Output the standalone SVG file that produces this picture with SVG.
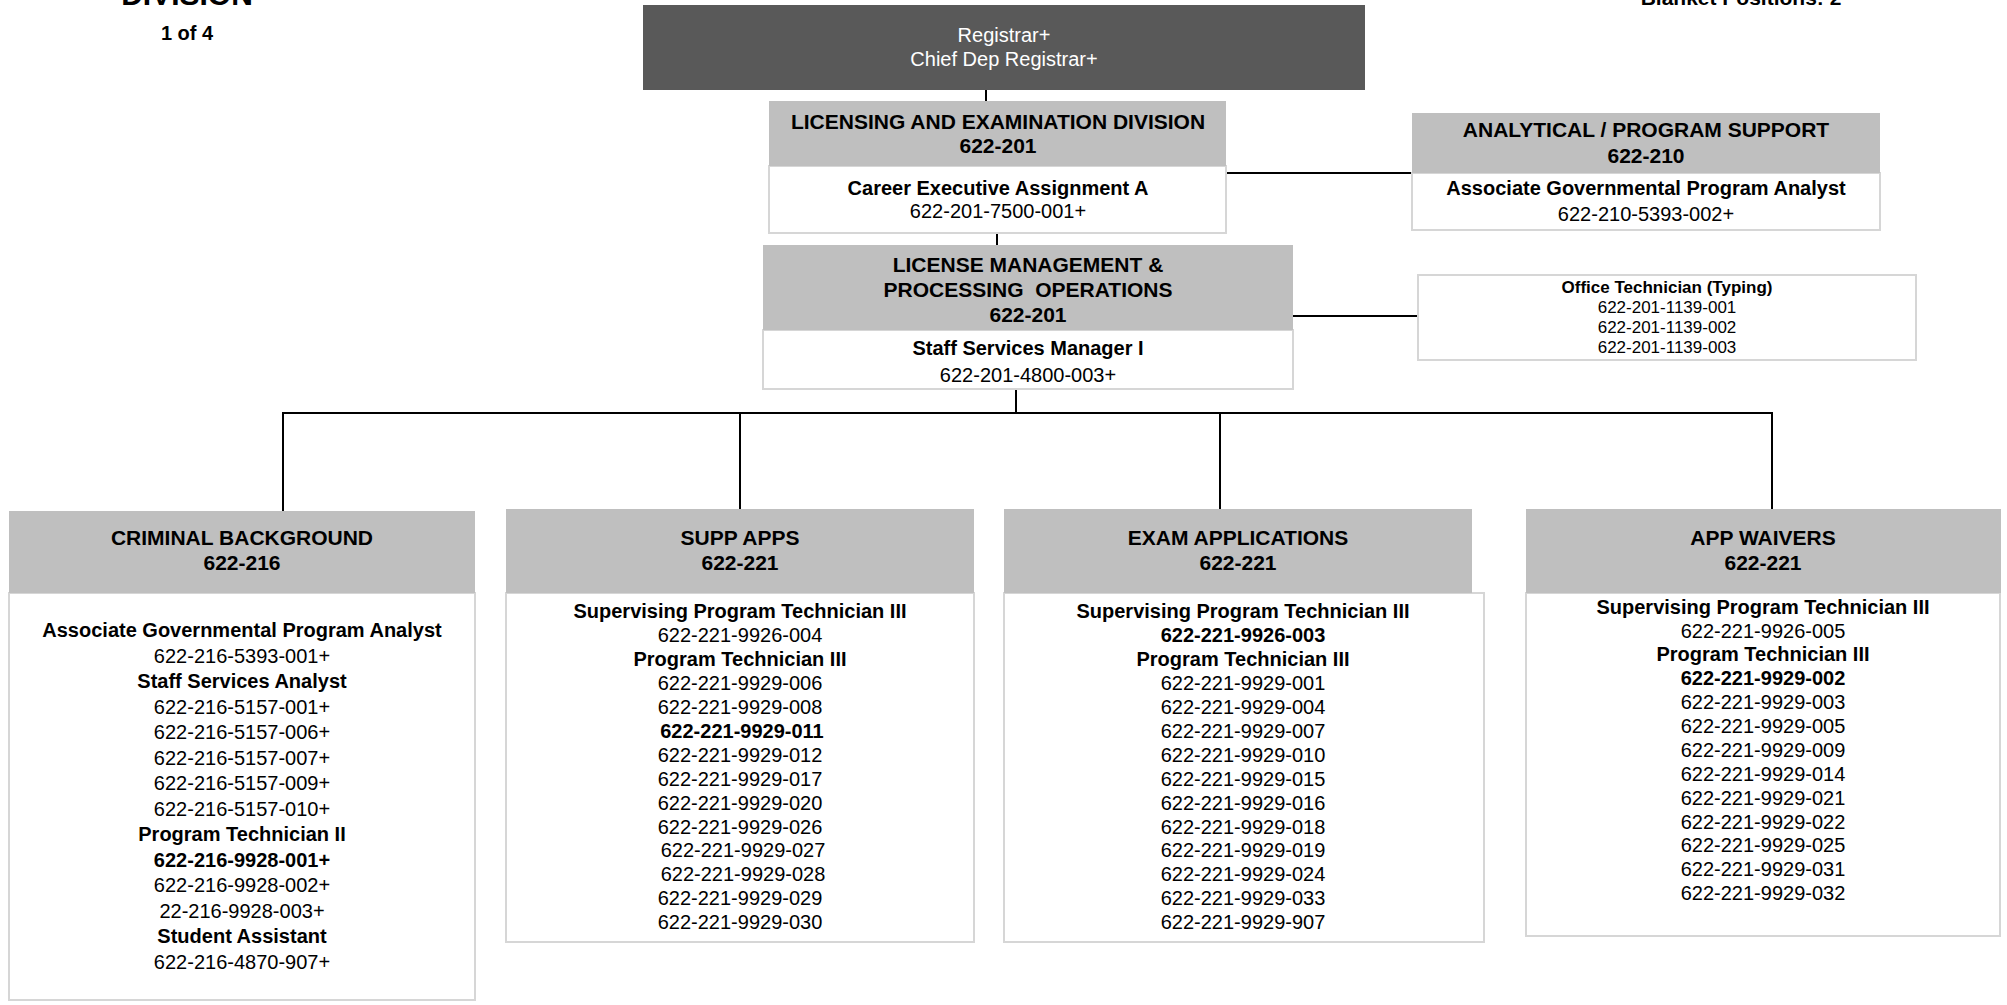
<svg xmlns="http://www.w3.org/2000/svg" width="2007" height="1005" viewBox="0 0 2007 1005">
<style>
text{font-family:"Liberation Sans",Arial,sans-serif;text-anchor:middle;fill:#000}
.h{font-size:21px;font-weight:bold}
.b{font-size:20px;font-weight:bold}
.n{font-size:20px}
.sb{font-size:17px;font-weight:bold}
.sn{font-size:17px}
.w{fill:#fff;font-size:20px}
.hdr{fill:#BFBFBF}
.bx{fill:#fff;stroke:#D6D6D6;stroke-width:2}
.dark{fill:#595959}
.ttl{font-size:30px;font-weight:bold}
.pg{font-size:20px;font-weight:bold}
#connectors line{stroke:#000;stroke-width:2}
</style>
<rect width="2007" height="1005" fill="#fff"/>
<g id="title">
<text class="ttl" x="187" y="5">DIVISION</text>
<text class="pg" x="187" y="40">1 of 4</text>
<text class="h" x="1741" y="5">Blanket Positions: 2</text>
</g>
<g id="connectors">
<line x1="986" y1="90" x2="986" y2="101"/>
<line x1="997" y1="233" x2="997" y2="245"/>
<line x1="1226" y1="173" x2="1412" y2="173"/>
<line x1="1293" y1="316" x2="1418" y2="316"/>
<line x1="1016" y1="389" x2="1016" y2="413"/>
<line x1="282" y1="413" x2="1773" y2="413"/>
<line x1="283" y1="413" x2="283" y2="511"/>
<line x1="740" y1="413" x2="740" y2="509"/>
<line x1="1220" y1="413" x2="1220" y2="509"/>
<line x1="1772" y1="413" x2="1772" y2="509"/>
</g>
<g id="registrar">
<rect class="dark" x="643" y="5" width="722" height="85"/>
<text class="w" x="1004" y="42">Registrar+</text>
<text class="w" x="1004" y="66">Chief Dep Registrar+</text>
</g>
<g id="licensing-exam-division">
<rect class="bx" x="769" y="166" width="457" height="67"/>
<rect class="hdr" x="769" y="101" width="457" height="65"/>
<text class="h" x="998" y="129">LICENSING AND EXAMINATION DIVISION</text>
<text class="h" x="998" y="153">622-201</text>
<text class="b" x="998" y="195">Career Executive Assignment A</text>
<text class="n" x="998" y="218">622-201-7500-001+</text>
</g>
<g id="analytical-support">
<rect class="bx" x="1412" y="173" width="468" height="57"/>
<rect class="hdr" x="1412" y="113" width="468" height="60"/>
<text class="h" x="1646" y="137">ANALYTICAL / PROGRAM SUPPORT</text>
<text class="h" x="1646" y="163">622-210</text>
<text class="b" x="1646" y="195">Associate Governmental Program Analyst</text>
<text class="n" x="1646" y="221">622-210-5393-002+</text>
</g>
<g id="license-management">
<rect class="bx" x="763" y="330" width="530" height="59"/>
<rect class="hdr" x="763" y="245" width="530" height="85"/>
<text class="h" x="1028" y="272">LICENSE MANAGEMENT &amp;</text>
<text class="h" x="1028" y="297" xml:space="preserve">PROCESSING  OPERATIONS</text>
<text class="h" x="1028" y="322">622-201</text>
<text class="b" x="1028" y="355">Staff Services Manager I</text>
<text class="n" x="1028" y="382">622-201-4800-003+</text>
</g>
<g id="office-technician">
<rect class="bx" x="1418" y="275" width="498" height="85"/>
<text class="sb" x="1667" y="293">Office Technician (Typing)</text>
<text class="sn" x="1667" y="313">622-201-1139-001</text>
<text class="sn" x="1667" y="333">622-201-1139-002</text>
<text class="sn" x="1667" y="353">622-201-1139-003</text>
</g>
<g id="criminal-background">
<rect class="bx" x="9" y="593" width="466" height="407"/>
<rect class="hdr" x="9" y="511" width="466" height="82"/>
<text class="h" x="242" y="545">CRIMINAL BACKGROUND</text>
<text class="h" x="242" y="570">622-216</text>
<text class="b" x="242" y="637">Associate Governmental Program Analyst</text>
<text class="n" x="242" y="662.5">622-216-5393-001+</text>
<text class="b" x="242" y="688">Staff Services Analyst</text>
<text class="n" x="242" y="713.5">622-216-5157-001+</text>
<text class="n" x="242" y="739">622-216-5157-006+</text>
<text class="n" x="242" y="764.5">622-216-5157-007+</text>
<text class="n" x="242" y="790">622-216-5157-009+</text>
<text class="n" x="242" y="815.5">622-216-5157-010+</text>
<text class="b" x="242" y="841">Program Technician II</text>
<text class="b" x="242" y="866.5">622-216-9928-001+</text>
<text class="n" x="242" y="892">622-216-9928-002+</text>
<text class="n" x="242" y="917.5">22-216-9928-003+</text>
<text class="b" x="242" y="943">Student Assistant</text>
<text class="n" x="242" y="968.5">622-216-4870-907+</text>
</g>
<g id="supp-apps">
<rect class="bx" x="506" y="593" width="468" height="349"/>
<rect class="hdr" x="506" y="509" width="468" height="84"/>
<text class="h" x="740" y="545">SUPP APPS</text>
<text class="h" x="740" y="570">622-221</text>
<text class="b" x="740" y="618">Supervising Program Technician III</text>
<text class="n" x="740" y="642">622-221-9926-004</text>
<text class="b" x="740" y="666">Program Technician III</text>
<text class="n" x="740" y="690">622-221-9929-006</text>
<text class="n" x="740" y="714">622-221-9929-008</text>
<text class="b" x="742" y="738">622-221-9929-011</text>
<text class="n" x="740" y="762">622-221-9929-012</text>
<text class="n" x="740" y="786">622-221-9929-017</text>
<text class="n" x="740" y="810">622-221-9929-020</text>
<text class="n" x="740" y="834">622-221-9929-026</text>
<text class="n" x="743" y="857">622-221-9929-027</text>
<text class="n" x="743" y="881">622-221-9929-028</text>
<text class="n" x="740" y="905">622-221-9929-029</text>
<text class="n" x="740" y="929">622-221-9929-030</text>
</g>
<g id="exam-applications">
<rect class="bx" x="1004" y="593" width="480" height="349"/>
<rect class="hdr" x="1004" y="509" width="468" height="84"/>
<text class="h" x="1238" y="545">EXAM APPLICATIONS</text>
<text class="h" x="1238" y="570">622-221</text>
<text class="b" x="1243" y="618">Supervising Program Technician III</text>
<text class="b" x="1243" y="642">622-221-9926-003</text>
<text class="b" x="1243" y="666">Program Technician III</text>
<text class="n" x="1243" y="690">622-221-9929-001</text>
<text class="n" x="1243" y="714">622-221-9929-004</text>
<text class="n" x="1243" y="738">622-221-9929-007</text>
<text class="n" x="1243" y="762">622-221-9929-010</text>
<text class="n" x="1243" y="786">622-221-9929-015</text>
<text class="n" x="1243" y="810">622-221-9929-016</text>
<text class="n" x="1243" y="834">622-221-9929-018</text>
<text class="n" x="1243" y="857">622-221-9929-019</text>
<text class="n" x="1243" y="881">622-221-9929-024</text>
<text class="n" x="1243" y="905">622-221-9929-033</text>
<text class="n" x="1243" y="929">622-221-9929-907</text>
</g>
<g id="app-waivers">
<rect class="bx" x="1526" y="593" width="474" height="343"/>
<rect class="hdr" x="1526" y="509" width="475" height="84"/>
<text class="h" x="1763" y="545">APP WAIVERS</text>
<text class="h" x="1763" y="570">622-221</text>
<text class="b" x="1763" y="614">Supervising Program Technician III</text>
<text class="n" x="1763" y="638">622-221-9926-005</text>
<text class="b" x="1763" y="661">Program Technician III</text>
<text class="b" x="1763" y="685">622-221-9929-002</text>
<text class="n" x="1763" y="709">622-221-9929-003</text>
<text class="n" x="1763" y="733">622-221-9929-005</text>
<text class="n" x="1763" y="757">622-221-9929-009</text>
<text class="n" x="1763" y="781">622-221-9929-014</text>
<text class="n" x="1763" y="805">622-221-9929-021</text>
<text class="n" x="1763" y="829">622-221-9929-022</text>
<text class="n" x="1763" y="852">622-221-9929-025</text>
<text class="n" x="1763" y="876">622-221-9929-031</text>
<text class="n" x="1763" y="900">622-221-9929-032</text>
</g>
</svg>
